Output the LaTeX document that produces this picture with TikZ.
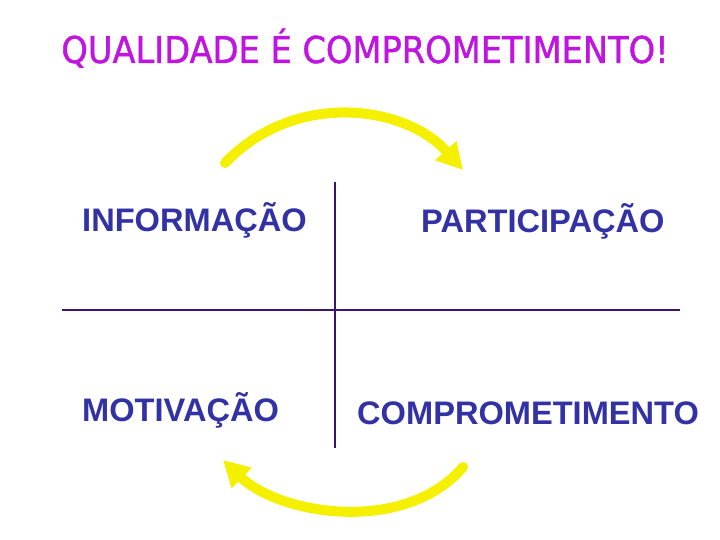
\documentclass[tikz,border=0pt]{standalone}
\usepackage{fontspec}
\setmainfont{Liberation Sans}
\newfontfamily\titlefont[FakeBold=1.2]{DejaVu Sans}
\usetikzlibrary{arrows.meta}
\definecolor{titlecol}{RGB}{192,20,224}
\definecolor{labelcol}{RGB}{50,50,165}
\definecolor{axiscol}{RGB}{60,20,110}
\definecolor{arrowcol}{RGB}{245,240,0}
\tikzset{
  label text/.style={anchor=base west, inner sep=0pt, text=labelcol, font=\fontsize{32.6}{36}\selectfont\bfseries},
  axis/.style={draw=axiscol, line width=2.5pt},
  cycle arrow/.style={draw=arrowcol, line width=10pt, line cap=round, -{Triangle[length=26pt,width=27pt]}}
}
\begin{document}
\begin{tikzpicture}[x=1pt,y=-1pt]
\useasboundingbox (0,0) rectangle (720,540);
\node[anchor=base, inner sep=0pt, text=titlecol, font=\titlefont\fontsize{37}{40}\selectfont, xscale=0.91, transform shape] (title) at (365,63) {QUALIDADE É COMPROMETIMENTO!};
\coordinate (vtop) at (335,182);
\coordinate (vbot) at (335,448);
\coordinate (hl) at (62,310);
\coordinate (hr) at (680,310);
\draw[axis] (vtop) -- (vbot);
\draw[axis] (hl) -- (hr);
\node[label text] (info) at (82,231) {INFORMAÇÃO};
\node[label text] (part) at (421,233) {PARTICIPAÇÃO};
\node[label text] (moti) at (82,421) {MOTIVAÇÃO};
\node[label text] (comp) at (357,424) {COMPROMETIMENTO};
\coordinate (a1s) at (225,163);
\coordinate (a1e) at (463,170);
\coordinate (a2s) at (463,467);
\coordinate (a2e) at (223,460);
\draw[cycle arrow] (a1s) .. controls (295,90) and (405,105) .. (a1e);
\draw[cycle arrow] (a2s) .. controls (405,535) and (280,515) .. (a2e);
\end{tikzpicture}
\end{document}
